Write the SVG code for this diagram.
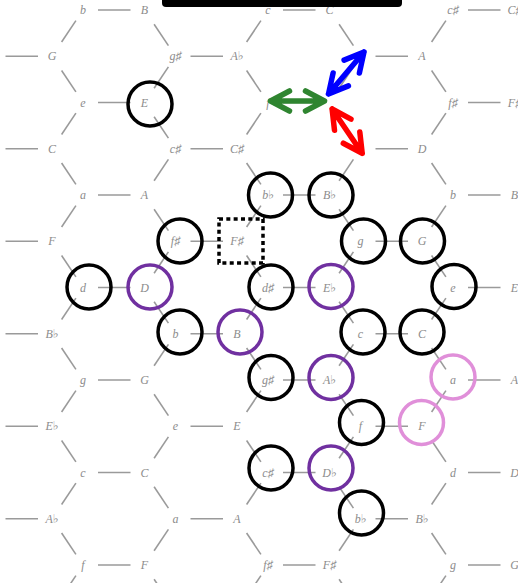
<svg xmlns="http://www.w3.org/2000/svg" width="518" height="583" viewBox="0 0 518 583">
<style>
.e{stroke:#9a9a9a;stroke-width:1.6;fill:none}
.t{font-family:"Liberation Serif","DejaVu Serif",serif;font-style:italic;font-size:12px;fill:#8c8c8c;text-anchor:middle}
.k,.p,.q{fill:none;stroke-width:3.5}
.k{stroke:#000}
.p{stroke:#7030a0}
.q{stroke:#e08fd9}
.ar{fill:none;stroke-width:5.5;stroke-linecap:round;stroke-linejoin:round}
</style>
<rect width="518" height="583" fill="#fff"/>
<g id="connectors">
<line class="e" x1="98" y1="10" x2="130.5" y2="10"/><line class="e" x1="283" y1="10" x2="315.5" y2="10"/><line class="e" x1="468" y1="10" x2="500.5" y2="10"/>
<line class="e" x1="98" y1="102.5" x2="130.5" y2="102.5"/><line class="e" x1="283" y1="102.5" x2="315.5" y2="102.5"/><line class="e" x1="468" y1="102.5" x2="500.5" y2="102.5"/>
<line class="e" x1="98" y1="195" x2="130.5" y2="195"/><line class="e" x1="283" y1="195" x2="315.5" y2="195"/><line class="e" x1="468" y1="195" x2="500.5" y2="195"/>
<line class="e" x1="98" y1="287.5" x2="130.5" y2="287.5"/><line class="e" x1="283" y1="287.5" x2="315.5" y2="287.5"/><line class="e" x1="468" y1="287.5" x2="500.5" y2="287.5"/>
<line class="e" x1="98" y1="380" x2="130.5" y2="380"/><line class="e" x1="283" y1="380" x2="315.5" y2="380"/><line class="e" x1="468" y1="380" x2="500.5" y2="380"/>
<line class="e" x1="98" y1="472.5" x2="130.5" y2="472.5"/><line class="e" x1="283" y1="472.5" x2="315.5" y2="472.5"/><line class="e" x1="468" y1="472.5" x2="500.5" y2="472.5"/>
<line class="e" x1="98" y1="565" x2="130.5" y2="565"/><line class="e" x1="283" y1="565" x2="315.5" y2="565"/><line class="e" x1="468" y1="565" x2="500.5" y2="565"/>
<line class="e" x1="5.5" y1="56.25" x2="38" y2="56.25"/><line class="e" x1="190.5" y1="56.25" x2="223" y2="56.25"/><line class="e" x1="375.5" y1="56.25" x2="408" y2="56.25"/>
<line class="e" x1="5.5" y1="148.75" x2="38" y2="148.75"/><line class="e" x1="190.5" y1="148.75" x2="223" y2="148.75"/><line class="e" x1="375.5" y1="148.75" x2="408" y2="148.75"/>
<line class="e" x1="5.5" y1="241.25" x2="38" y2="241.25"/><line class="e" x1="190.5" y1="241.25" x2="223" y2="241.25"/><line class="e" x1="375.5" y1="241.25" x2="408" y2="241.25"/>
<line class="e" x1="5.5" y1="333.75" x2="38" y2="333.75"/><line class="e" x1="190.5" y1="333.75" x2="223" y2="333.75"/><line class="e" x1="375.5" y1="333.75" x2="408" y2="333.75"/>
<line class="e" x1="5.5" y1="426.25" x2="38" y2="426.25"/><line class="e" x1="190.5" y1="426.25" x2="223" y2="426.25"/><line class="e" x1="375.5" y1="426.25" x2="408" y2="426.25"/>
<line class="e" x1="5.5" y1="518.75" x2="38" y2="518.75"/><line class="e" x1="190.5" y1="518.75" x2="223" y2="518.75"/><line class="e" x1="375.5" y1="518.75" x2="408" y2="518.75"/>
<!-- diagonals -->
<line class="e" x1="154.1" y1="24.3" x2="168.4" y2="45.6"/><line class="e" x1="339.1" y1="24.3" x2="353.4" y2="45.6"/>
<line class="e" x1="61.6" y1="41.95" x2="75.9" y2="20.65"/><line class="e" x1="246.6" y1="41.95" x2="260.9" y2="20.65"/><line class="e" x1="431.6" y1="41.95" x2="445.9" y2="20.65"/>
<line class="e" x1="61.6" y1="70.55" x2="75.9" y2="91.85"/><line class="e" x1="246.6" y1="70.55" x2="260.9" y2="91.85"/><line class="e" x1="431.6" y1="70.55" x2="445.9" y2="91.85"/>
<line class="e" x1="154.1" y1="88.2" x2="168.4" y2="66.9"/><line class="e" x1="339.1" y1="88.2" x2="353.4" y2="66.9"/>
<line class="e" x1="154.1" y1="116.8" x2="168.4" y2="138.1"/><line class="e" x1="339.1" y1="116.8" x2="353.4" y2="138.1"/>
<line class="e" x1="61.6" y1="134.45" x2="75.9" y2="113.15"/><line class="e" x1="246.6" y1="134.45" x2="260.9" y2="113.15"/><line class="e" x1="431.6" y1="134.45" x2="445.9" y2="113.15"/>
<line class="e" x1="61.6" y1="163.05" x2="75.9" y2="184.35"/><line class="e" x1="246.6" y1="163.05" x2="260.9" y2="184.35"/><line class="e" x1="431.6" y1="163.05" x2="445.9" y2="184.35"/>
<line class="e" x1="154.1" y1="180.7" x2="168.4" y2="159.4"/><line class="e" x1="339.1" y1="180.7" x2="353.4" y2="159.4"/>
<line class="e" x1="154.1" y1="209.3" x2="168.4" y2="230.6"/><line class="e" x1="339.1" y1="209.3" x2="353.4" y2="230.6"/>
<line class="e" x1="61.6" y1="226.95" x2="75.9" y2="205.65"/><line class="e" x1="246.6" y1="226.95" x2="260.9" y2="205.65"/><line class="e" x1="431.6" y1="226.95" x2="445.9" y2="205.65"/>
<line class="e" x1="61.6" y1="255.55" x2="75.9" y2="276.85"/><line class="e" x1="246.6" y1="255.55" x2="260.9" y2="276.85"/><line class="e" x1="431.6" y1="255.55" x2="445.9" y2="276.85"/>
<line class="e" x1="154.1" y1="273.2" x2="168.4" y2="251.9"/><line class="e" x1="339.1" y1="273.2" x2="353.4" y2="251.9"/>
<line class="e" x1="154.1" y1="301.8" x2="168.4" y2="323.1"/><line class="e" x1="339.1" y1="301.8" x2="353.4" y2="323.1"/>
<line class="e" x1="61.6" y1="319.45" x2="75.9" y2="298.15"/><line class="e" x1="246.6" y1="319.45" x2="260.9" y2="298.15"/><line class="e" x1="431.6" y1="319.45" x2="445.9" y2="298.15"/>
<line class="e" x1="61.6" y1="348.05" x2="75.9" y2="369.35"/><line class="e" x1="246.6" y1="348.05" x2="260.9" y2="369.35"/><line class="e" x1="431.6" y1="348.05" x2="445.9" y2="369.35"/>
<line class="e" x1="154.1" y1="365.7" x2="168.4" y2="344.4"/><line class="e" x1="339.1" y1="365.7" x2="353.4" y2="344.4"/>
<line class="e" x1="154.1" y1="394.3" x2="168.4" y2="415.6"/><line class="e" x1="339.1" y1="394.3" x2="353.4" y2="415.6"/>
<line class="e" x1="61.6" y1="411.95" x2="75.9" y2="390.65"/><line class="e" x1="246.6" y1="411.95" x2="260.9" y2="390.65"/><line class="e" x1="431.6" y1="411.95" x2="445.9" y2="390.65"/>
<line class="e" x1="61.6" y1="440.55" x2="75.9" y2="461.85"/><line class="e" x1="246.6" y1="440.55" x2="260.9" y2="461.85"/><line class="e" x1="431.6" y1="440.55" x2="445.9" y2="461.85"/>
<line class="e" x1="154.1" y1="458.2" x2="168.4" y2="436.9"/><line class="e" x1="339.1" y1="458.2" x2="353.4" y2="436.9"/>
<line class="e" x1="154.1" y1="486.8" x2="168.4" y2="508.1"/><line class="e" x1="339.1" y1="486.8" x2="353.4" y2="508.1"/>
<line class="e" x1="61.6" y1="504.45" x2="75.9" y2="483.15"/><line class="e" x1="246.6" y1="504.45" x2="260.9" y2="483.15"/><line class="e" x1="431.6" y1="504.45" x2="445.9" y2="483.15"/>
<line class="e" x1="61.6" y1="533.05" x2="75.9" y2="554.35"/><line class="e" x1="246.6" y1="533.05" x2="260.9" y2="554.35"/><line class="e" x1="431.6" y1="533.05" x2="445.9" y2="554.35"/>
<line class="e" x1="154.1" y1="550.7" x2="168.4" y2="529.4"/><line class="e" x1="339.1" y1="550.7" x2="353.4" y2="529.4"/>
<line class="e" x1="154.1" y1="579.3" x2="168.4" y2="600.6"/><line class="e" x1="339.1" y1="579.3" x2="353.4" y2="600.6"/>
<line class="e" x1="61.6" y1="596.95" x2="75.9" y2="575.65"/><line class="e" x1="246.6" y1="596.95" x2="260.9" y2="575.65"/><line class="e" x1="431.6" y1="596.95" x2="445.9" y2="575.65"/>
</g>
<g id="nodes">
<g id="r0"><text class="t" x="83" y="14">b</text><text class="t" x="144.5" y="14">B</text><text class="t" x="268" y="14">c</text><text class="t" x="329.5" y="14">C</text><text class="t" x="453" y="14">c♯</text><text class="t" x="514.5" y="14">C♯</text></g>
<g id="r1"><text class="t" x="52" y="60.25">G</text><text class="t" x="175.5" y="60.25">g♯</text><text class="t" x="237" y="60.25">A♭</text><text class="t" x="360.5" y="60.25">a</text><text class="t" x="422" y="60.25">A</text></g>
<g id="r2"><text class="t" x="83" y="106.5">e</text><g id="node-E"><text class="t" x="144.5" y="106.5">E</text><circle class="k" cx="150" cy="104" r="22"/></g><text class="t" x="268" y="106.5">f</text><text class="t" x="453" y="106.5">f♯</text><text class="t" x="514.5" y="106.5">F♯</text></g>
<g id="r3"><text class="t" x="52" y="152.75">C</text><text class="t" x="175.5" y="152.75">c♯</text><text class="t" x="237" y="152.75">C♯</text><text class="t" x="360.5" y="152.75">d</text><text class="t" x="422" y="152.75">D</text></g>
<g id="r4"><text class="t" x="83" y="199">a</text><text class="t" x="144.5" y="199">A</text><g id="node-bb1"><text class="t" x="268" y="199">b♭</text><circle class="k" cx="270.5" cy="195" r="22"/></g><g id="node-Bb1"><text class="t" x="329.5" y="199">B♭</text><circle class="k" cx="331" cy="195" r="22"/></g><text class="t" x="453" y="199">b</text><text class="t" x="514.5" y="199">B</text></g>
<g id="r5"><text class="t" x="52" y="245.25">F</text><g id="node-fs1"><text class="t" x="175.5" y="245.25">f♯</text><circle class="k" cx="180" cy="241" r="22"/></g><g id="node-Fs1"><text class="t" x="237" y="245.25">F♯</text><rect x="219" y="219" width="44" height="44" fill="none" stroke="#000" stroke-width="3.5" stroke-dasharray="4 3.33"/></g><g id="node-g1"><text class="t" x="360.5" y="245.25">g</text><circle class="k" cx="363.5" cy="241" r="22"/></g><g id="node-G1"><text class="t" x="422" y="245.25">G</text><circle class="k" cx="422.5" cy="241" r="22"/></g></g>
<g id="r6"><g id="node-d1"><text class="t" x="83" y="291.5">d</text><circle class="k" cx="89" cy="287" r="22"/></g><g id="node-D1"><text class="t" x="144.5" y="291.5">D</text><circle class="p" cx="150" cy="287" r="22"/></g><g id="node-ds"><text class="t" x="268" y="291.5">d♯</text><circle class="k" cx="271" cy="287" r="22"/></g><g id="node-Eb"><text class="t" x="329.5" y="291.5">E♭</text><circle class="p" cx="331" cy="286.5" r="22"/></g><g id="node-e1"><text class="t" x="453" y="291.5">e</text><circle class="k" cx="454" cy="286.5" r="22"/></g><text class="t" x="514.5" y="291.5">E</text></g>
<g id="r7"><text class="t" x="52" y="337.75">B♭</text><g id="node-b1"><text class="t" x="175.5" y="337.75">b</text><circle class="k" cx="180" cy="332" r="22"/></g><g id="node-B1"><text class="t" x="237" y="337.75">B</text><circle class="p" cx="240" cy="332" r="22"/></g><g id="node-c1"><text class="t" x="360.5" y="337.75">c</text><circle class="k" cx="363" cy="332" r="22"/></g><g id="node-C1"><text class="t" x="422" y="337.75">C</text><circle class="k" cx="422" cy="332" r="22"/></g></g>
<g id="r8"><text class="t" x="83" y="384">g</text><text class="t" x="144.5" y="384">G</text><g id="node-gs"><text class="t" x="268" y="384">g♯</text><circle class="k" cx="271" cy="377.5" r="22"/></g><g id="node-Ab"><text class="t" x="329.5" y="384">A♭</text><circle class="p" cx="331" cy="377.5" r="22"/></g><g id="node-a1"><text class="t" x="453" y="384">a</text><circle class="q" cx="453" cy="377" r="22"/></g><text class="t" x="514.5" y="384">A</text></g>
<g id="r9"><text class="t" x="52" y="430.25">E♭</text><text class="t" x="175.5" y="430.25">e</text><text class="t" x="237" y="430.25">E</text><g id="node-f1"><text class="t" x="360.5" y="430.25">f</text><circle class="k" cx="361.5" cy="422.5" r="22"/></g><g id="node-F1"><text class="t" x="422" y="430.25">F</text><circle class="q" cx="421.5" cy="422.5" r="22"/></g></g>
<g id="r10"><text class="t" x="83" y="476.5">c</text><text class="t" x="144.5" y="476.5">C</text><g id="node-cs"><text class="t" x="268" y="476.5">c♯</text><circle class="k" cx="271" cy="468" r="22"/></g><g id="node-Db"><text class="t" x="329.5" y="476.5">D♭</text><circle class="p" cx="331" cy="468" r="22"/></g><text class="t" x="453" y="476.5">d</text><text class="t" x="514.5" y="476.5">D</text></g>
<g id="r11"><text class="t" x="52" y="522.75">A♭</text><text class="t" x="175.5" y="522.75">a</text><text class="t" x="237" y="522.75">A</text><g id="node-bb2"><text class="t" x="360.5" y="522.75">b♭</text><circle class="k" cx="361.5" cy="513" r="22"/></g><text class="t" x="422" y="522.75">B♭</text></g>
<g id="r12"><text class="t" x="83" y="569">f</text><text class="t" x="144.5" y="569">F</text><text class="t" x="268" y="569">f♯</text><text class="t" x="329.5" y="569">F♯</text><text class="t" x="453" y="569">g</text><text class="t" x="514.5" y="569">G</text></g>
</g>
<g id="arrows">
<path class="ar" stroke="#2f8530" d="M270.5,101 L324.5,101 M305.5,91 L324.5,101 L305.5,111 M289.5,91 L270.5,101 L289.5,111"/>
<path class="ar" stroke="#0000ff" d="M328.5,94 L364,52 M359.4,73 L364,52 L344.1,60.1 M348.4,85.9 L328.5,94 L333.1,73"/>
<path class="ar" stroke="#ff0000" d="M332.1,109 L362.2,153.3 M359.8,132 L362.2,153.3 L343.3,143.2 M351,119.1 L332.1,109 L334.5,130.3"/>
</g>
<rect id="topbar" x="162" y="-10" width="240" height="17" rx="4" fill="#000"/>
</svg>
